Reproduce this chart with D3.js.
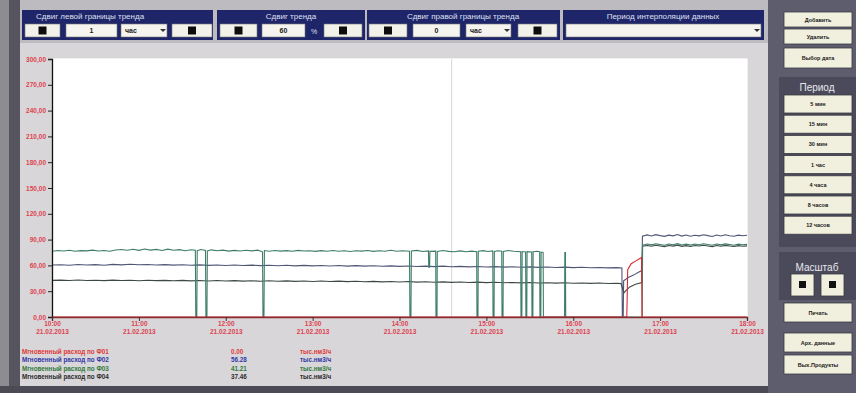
<!DOCTYPE html>
<html>
<head>
<meta charset="utf-8">
<script src="https://cdn.jsdelivr.net/npm/d3@7"></script>
<style>
  html, body { margin: 0; padding: 0; background: #d8d5d8; }
  svg { display: block; font-family: "Liberation Sans", Arial, sans-serif; }
</style>
</head>
<body>
<svg id="scr" width="856" height="393"></svg>
<script>
// ---- trend data (minutes from window start, instantaneous flow) ----
const seriesNames = ["Ф01", "Ф02", "Ф03", "Ф04"];
const legendValues = ["0.00", "56.28", "41.21", "37.46"];
const unitLabel = "тыс.нм3/ч";
const yTicks = [0, 30, 60, 90, 120, 150, 180, 210, 240, 270, 300];
const xTickMinutes = [0, 60, 120, 180, 240, 300, 360, 420, 480];
const xTickTimes = ["10:00", "11:00", "12:00", "13:00", "14:00", "15:00", "16:00", "17:00", "18:00"];
const xTickDate = "21.02.2013";

const flowF01 = [
  [0, 0], [397, 0], [397.6, 55], [400, 62], [403, 65], [406, 68], [407.2, 69], [407.5, 0], [480, 0]
];

const flowF02 = [
  [0, 60.5], [6, 60.8], [12, 60.2], [18, 61], [24, 60.4], [30, 60.9], [36, 60.1], [42, 61.2], [48, 60.6],
  [54, 61.4], [60, 60.7], [66, 61.1], [72, 60.5], [78, 60.9], [84, 60.3], [90, 60.8], [96, 60.2], [102, 60.6],
  [108, 60], [114, 60.5], [120, 59.9], [126, 60.4], [132, 59.8], [138, 60.3], [144, 59.7], [150, 60.1],
  [156, 59.6], [162, 60.2], [168, 59.5], [174, 60], [180, 59.4], [186, 59.9], [192, 59.3], [198, 59.8],
  [204, 59.2], [210, 59.7], [216, 59.1], [222, 59.6], [228, 59], [234, 59.5], [240, 58.9], [246, 59.3],
  [252, 58.8], [258, 59.2], [264, 58.6], [270, 59.1], [276, 58.5], [282, 58.9], [288, 58.3], [294, 58.8],
  [300, 58.2], [306, 58.6], [312, 58], [318, 58.4], [324, 57.9], [330, 58.3], [336, 57.7], [342, 58.1],
  [348, 57.6], [354, 58], [360, 57.4], [366, 57.8], [372, 57.3], [378, 57.6], [384, 57.1], [390, 57.4],
  [393.6, 57], [393.9, 0], [394.5, 0], [394.8, 42], [398, 46], [402, 49], [405, 52], [407.4, 54],
  [407.8, 94], [411, 95.5], [414, 94.2], [417, 95.8], [420, 94.6], [423, 93.8], [426, 95.2], [429, 94.4],
  [432, 95.9], [435, 94.1], [438, 95.4], [441, 93.9], [444, 95.1], [447, 94.3], [450, 95.7], [453, 94.6],
  [456, 93.7], [459, 95.3], [462, 94.2], [465, 95.6], [468, 94.5], [471, 93.9], [474, 95.2], [477, 94.4], [480, 95]
];

const flowF03 = [
  [0, 76.5], [4, 77.4], [8, 76.8], [12, 77.6], [16, 76.4], [20, 77.2], [24, 76.9], [28, 77.8], [32, 76.7],
  [36, 77.3], [40, 76.5], [44, 77.9], [48, 78.4], [52, 77.6], [56, 78.8], [60, 77.5], [64, 79], [68, 77.8],
  [72, 78.6], [76, 77.4], [80, 78.9], [84, 77.7], [88, 78.3], [92, 77.1], [96, 78.2], [99, 77.6],
  [99.3, 0], [100, 0], [100.3, 77.2], [103, 78.4], [106, 77.5], [106.3, 0], [107, 0], [107.3, 76.9],
  [110, 78.1], [114, 77], [118, 77.8], [122, 76.6], [126, 77.5], [130, 76.8], [134, 77.6], [138, 76.9],
  [142, 77.7], [145.4, 75.8], [145.7, 0], [146.4, 0], [146.7, 77.3], [150, 76.5], [154, 77.4], [158, 76.6],
  [162, 77.2], [166, 76.4], [170, 77.5], [174, 76.7], [178, 77.1], [182, 76.3], [186, 77.2], [190, 76.5],
  [194, 77.3], [198, 76.4], [202, 77], [206, 76.2], [210, 77.1], [214, 76.6], [218, 77.4], [222, 76.3],
  [226, 77], [230, 76.5], [234, 77.6], [238, 76.4], [242, 77.1], [246.9, 76.5], [247.2, 0], [247.9, 0],
  [248.2, 76.8], [252, 77.5], [256, 76.1], [260, 76.9], [260.2, 58], [260.8, 58], [261, 76.3], [265, 76.6],
  [265.2, 0], [265.9, 0], [266.1, 76.2], [270, 77.4], [274, 76.3], [278, 75.8], [282, 76.9], [286, 75.9],
  [290, 76.6], [293.3, 76], [293.5, 0], [294.2, 0], [294.4, 76.4], [298, 77.2], [301, 76.1], [304.4, 76.8],
  [304.6, 0], [305.3, 0], [305.5, 76.3], [308, 77.1], [310.6, 76.5], [310.8, 0], [311.5, 0], [311.7, 76.2],
  [315, 77.3], [319, 76.4], [323.7, 75.9], [323.9, 0], [324.5, 0], [324.7, 76.1], [327.1, 75.7], [327.3, 0],
  [327.9, 0], [328.1, 76], [331.3, 75.6], [331.5, 0], [332.1, 0], [332.3, 75.9], [335, 76.4], [336.8, 75.8],
  [337, 0], [337.6, 0], [337.8, 75.5], [339.2, 75.1], [339.4, 0], [354, 0], [354.2, 75], [354.6, 75], [354.8, 0],
  [407.6, 0], [407.9, 83.6], [411, 84.8], [414, 83.9], [417, 85.1], [420, 84.2], [423, 83.5], [426, 84.9],
  [429, 84], [432, 85.3], [435, 83.8], [438, 84.7], [441, 83.6], [444, 84.9], [447, 84.1], [450, 85.2],
  [453, 84.3], [456, 83.4], [459, 84.8], [462, 83.9], [465, 85], [468, 84.2], [471, 83.5], [474, 84.7], [477, 84], [480, 84.5]
];

const flowF04 = [
  [0, 42.6], [6, 42.9], [12, 42.4], [18, 43], [24, 42.5], [30, 42.8], [36, 42.3], [42, 42.9], [48, 42.4],
  [54, 42.7], [60, 42.2], [66, 42.8], [72, 42.3], [78, 42.6], [84, 42.1], [90, 42.6], [96, 42], [102, 42.5],
  [108, 41.9], [114, 42.4], [120, 41.8], [126, 42.3], [132, 41.7], [138, 42.2], [144, 41.6], [150, 42.1],
  [156, 41.5], [162, 42], [168, 41.4], [174, 41.9], [180, 41.3], [186, 41.8], [192, 41.2], [198, 41.7],
  [204, 41.1], [210, 41.5], [216, 41], [222, 41.4], [228, 40.8], [234, 41.3], [240, 40.7], [246, 41.2],
  [252, 40.6], [258, 41], [264, 40.4], [270, 40.9], [276, 40.3], [282, 40.7], [288, 40.1], [294, 40.6],
  [300, 40], [306, 40.4], [312, 39.8], [318, 40.2], [324, 39.7], [330, 40.1], [336, 39.5], [342, 39.9],
  [348, 39.4], [354, 39.8], [360, 39.2], [366, 39.6], [372, 39.1], [378, 39.5], [384, 38.9], [390, 39.2],
  [393, 38.8], [395, 28], [396, 30], [399, 35], [403, 38], [407.4, 40], [407.8, 82.3], [411, 83.1],
  [414, 82.2], [417, 83.4], [420, 82.6], [423, 81.9], [426, 83.2], [429, 82.4], [432, 83.5], [435, 82.1],
  [438, 83], [441, 82], [444, 83.2], [447, 82.5], [450, 83.4], [453, 82.6], [456, 81.8], [459, 83.1],
  [462, 82.3], [465, 83.3], [468, 82.5], [471, 81.9], [474, 83], [477, 82.3], [480, 82.7]
];

const flows = [flowF01, flowF02, flowF03, flowF04];

// ---- colours ----
const lineColors = ["#d42a2e", "#4f5676", "#3f7d69", "#3f4848"];
const legendColors = ["#dd3a3a", "#3038a6", "#2f7a3c", "#2b2b2b"];
const navy = "#1f2569";
const cream = "#f1efdd";

const svg = d3.select("#scr");

// ---- frame and panels ----
svg.append("rect").attr("x", 0).attr("y", 0).attr("width", 856).attr("height", 393).attr("fill", "#d9d6d9");
svg.append("rect").attr("x", 20).attr("y", 0).attr("width", 750).attr("height", 43).attr("fill", "#bdbbc0");
svg.append("rect").attr("x", 0).attr("y", 0).attr("width", 9).attr("height", 393).attr("fill", "#8d8c93");
svg.append("rect").attr("x", 9).attr("y", 0).attr("width", 11).attr("height", 393).attr("fill", "#56555f");
svg.append("rect").attr("x", 0).attr("y", 386).attr("width", 856).attr("height", 7).attr("fill", "#4c4b55");
svg.append("rect").attr("x", 768).attr("y", 0).attr("width", 88).attr("height", 393).attr("fill", "#5e5d6e");

// ---- top control strip ----
function smallButton(x, y, w, h) {
  svg.append("rect").attr("x", x).attr("y", y).attr("width", w).attr("height", h)
    .attr("fill", "#f3f2ea").attr("stroke", "#777").attr("stroke-width", 0.6);
  svg.append("rect").attr("x", x + w / 2 - 4).attr("y", y + h / 2 - 4).attr("width", 8).attr("height", 8)
    .attr("fill", "#0d0d0d");
}
function inputBox(x, y, w, h, txt, dropdown, align) {
  svg.append("rect").attr("x", x).attr("y", y).attr("width", w).attr("height", h)
    .attr("fill", "#f5f4ee").attr("stroke", "#777").attr("stroke-width", 0.6);
  if (txt) {
    svg.append("text").attr("x", align === "start" ? x + 4 : x + w / 2).attr("y", y + h / 2 + 2.5)
      .attr("text-anchor", align || "middle").attr("font-size", 7).attr("font-weight", "bold")
      .attr("fill", "#222").text(txt);
  }
  if (dropdown) {
    svg.append("path").attr("d", `M${x + w - 7},${y + h / 2 - 1.5} l3,3 l3,-3 z`).attr("fill", "#333");
  }
}
const headerGroups = [
  { x: 22, w: 191, title: "Сдвиг левой границы тренда", anchor: "start", tx: 36 },
  { x: 217, w: 148, title: "Сдвиг тренда", anchor: "middle", tx: 291 },
  { x: 367, w: 193, title: "Сдвиг правой границы тренда", anchor: "middle", tx: 463 },
  { x: 563, w: 201, title: "Период интерполяции данных", anchor: "middle", tx: 663 }
];
headerGroups.forEach(g => {
  svg.append("rect").attr("x", g.x).attr("y", 10).attr("width", g.w).attr("height", 30).attr("fill", navy);
  svg.append("text").attr("x", g.tx).attr("y", 19).attr("text-anchor", g.anchor)
    .attr("font-size", 8).attr("fill", "#dfe0f2").text(g.title);
});
smallButton(25, 24, 35, 13);
inputBox(66, 24, 51, 13, "1");
inputBox(121, 24, 46, 13, "час", true, "start");
smallButton(172, 24, 40, 13);
smallButton(220, 24, 37, 13);
inputBox(262, 24, 43, 13, "60");
svg.append("text").attr("x", 314).attr("y", 34).attr("text-anchor", "middle").attr("font-size", 7)
  .attr("fill", "#dfe0f2").text("%");
smallButton(324, 24, 38, 13);
smallButton(369, 24, 38, 13);
inputBox(413, 24, 47, 13, "0");
inputBox(466, 24, 45, 13, "час", true, "start");
smallButton(518, 24, 39, 13);
inputBox(566, 24, 195, 13, "", true);

// ---- right command panel ----
function cmdButton(x, y, w, h, label) {
  svg.append("rect").attr("x", x).attr("y", y).attr("width", w).attr("height", h)
    .attr("fill", cream).attr("stroke", "#3a3a44").attr("stroke-width", 0.8);
  svg.append("text").attr("x", x + w / 2).attr("y", y + h / 2 + 2).attr("text-anchor", "middle")
    .attr("font-size", 5.5).attr("font-weight", "bold").attr("fill", "#1a1a1a").text(label);
}
cmdButton(784, 12, 68, 15, "Добавить");
cmdButton(784, 29, 68, 15, "Удалить");
cmdButton(784, 48, 68, 20, "Выбор дата");
svg.append("rect").attr("x", 779).attr("y", 77).attr("width", 77).attr("height", 170).attr("fill", "#4b4a5a");
svg.append("text").attr("x", 817).attr("y", 91).attr("text-anchor", "middle").attr("font-size", 10)
  .attr("fill", "#e8e8f0").text("Период");
const periodLabels = ["5 мин", "15 мин", "30 мин", "1 час", "4 часа", "8 часов", "12 часов"];
periodLabels.forEach((p, i) => cmdButton(784, 95 + i * 20.2, 68, 18, p));
svg.append("rect").attr("x", 779).attr("y", 252).attr("width", 77).attr("height", 48).attr("fill", "#4b4a5a");
svg.append("text").attr("x", 817).attr("y", 271).attr("text-anchor", "middle").attr("font-size", 10)
  .attr("fill", "#e8e8f0").text("Масштаб");
[791, 821].forEach(bx => {
  svg.append("rect").attr("x", bx).attr("y", 274).attr("width", 23).attr("height", 22)
    .attr("fill", cream).attr("stroke", "#3a3a44").attr("stroke-width", 0.8);
  svg.append("rect").attr("x", bx + 8).attr("y", 281).attr("width", 7).attr("height", 7).attr("fill", "#111");
});
cmdButton(784, 303, 68, 19, "Печать");
cmdButton(784, 333, 68, 19, "Арх. данные");
cmdButton(784, 355, 68, 19, "Вых.Продукты");

// ---- trend plot ----
const x = d3.scaleLinear().domain([0, 480]).range([52, 747]);
const y = d3.scaleLinear().domain([0, 300]).range([317, 59]);

svg.append("rect").attr("x", 52).attr("y", 58).attr("width", 696).attr("height", 259)
  .attr("fill", "#ffffff").attr("stroke", "#cfcfd4").attr("stroke-width", 0.6);
// cursor line
svg.append("line").attr("x1", x(276)).attr("x2", x(276)).attr("y1", 59).attr("y2", 316)
  .attr("stroke", "#d6d6da").attr("stroke-width", 1);

const line = d3.line().x(d => x(d[0])).y(d => y(d[1]));
[1, 3, 2, 0].forEach(i => {
  svg.append("path").datum(flows[i]).attr("d", line).attr("fill", "none")
    .attr("stroke", lineColors[i]).attr("stroke-width", 1.1);
});

// y axis
const yAxis = d3.axisLeft(y).tickValues(yTicks).tickSize(4).tickPadding(2)
  .tickFormat(d => d.toFixed(2).replace(".", ","));
const gy = svg.append("g").attr("transform", "translate(52,0)").call(yAxis);
gy.select(".domain").attr("stroke", "#111").attr("stroke-width", 1.3);
gy.selectAll(".tick line").attr("stroke", "#222");
gy.selectAll(".tick text").attr("fill", "#dd4450").attr("font-size", 6.5).attr("font-weight", "bold")
  .attr("font-family", "Liberation Sans, Arial, sans-serif");

// x axis
const xAxis = d3.axisBottom(x).tickValues(xTickMinutes).tickSize(4).tickFormat("");
const gx = svg.append("g").attr("transform", "translate(0,317)").call(xAxis);
gx.select(".domain").attr("stroke", "#8a2b30").attr("stroke-width", 1.4);
gx.selectAll(".tick line").attr("stroke", "#333");
const lab = gx.selectAll(".tick").append("text").attr("fill", "#dd4450").attr("font-size", 6.5)
  .attr("font-weight", "bold").attr("text-anchor", "middle")
  .attr("font-family", "Liberation Sans, Arial, sans-serif");
lab.append("tspan").attr("x", 0).attr("y", 9).text((d, i) => xTickTimes[i]);
lab.append("tspan").attr("x", 0).attr("y", 16.5).text(xTickDate);

// ---- legend rows ----
seriesNames.forEach((n, i) => {
  const yy = 354 + i * 8.4;
  svg.append("text").attr("x", 22).attr("y", yy).attr("font-size", 6.3).attr("font-weight", "bold")
    .attr("fill", legendColors[i]).text("Мгновенный расход по " + n);
  svg.append("text").attr("x", 231).attr("y", yy).attr("font-size", 6.3).attr("font-weight", "bold")
    .attr("fill", legendColors[i]).text(legendValues[i]);
  svg.append("text").attr("x", 300).attr("y", yy).attr("font-size", 6.3).attr("font-weight", "bold")
    .attr("fill", legendColors[i]).text(unitLabel);
});
</script>
</body>
</html>
